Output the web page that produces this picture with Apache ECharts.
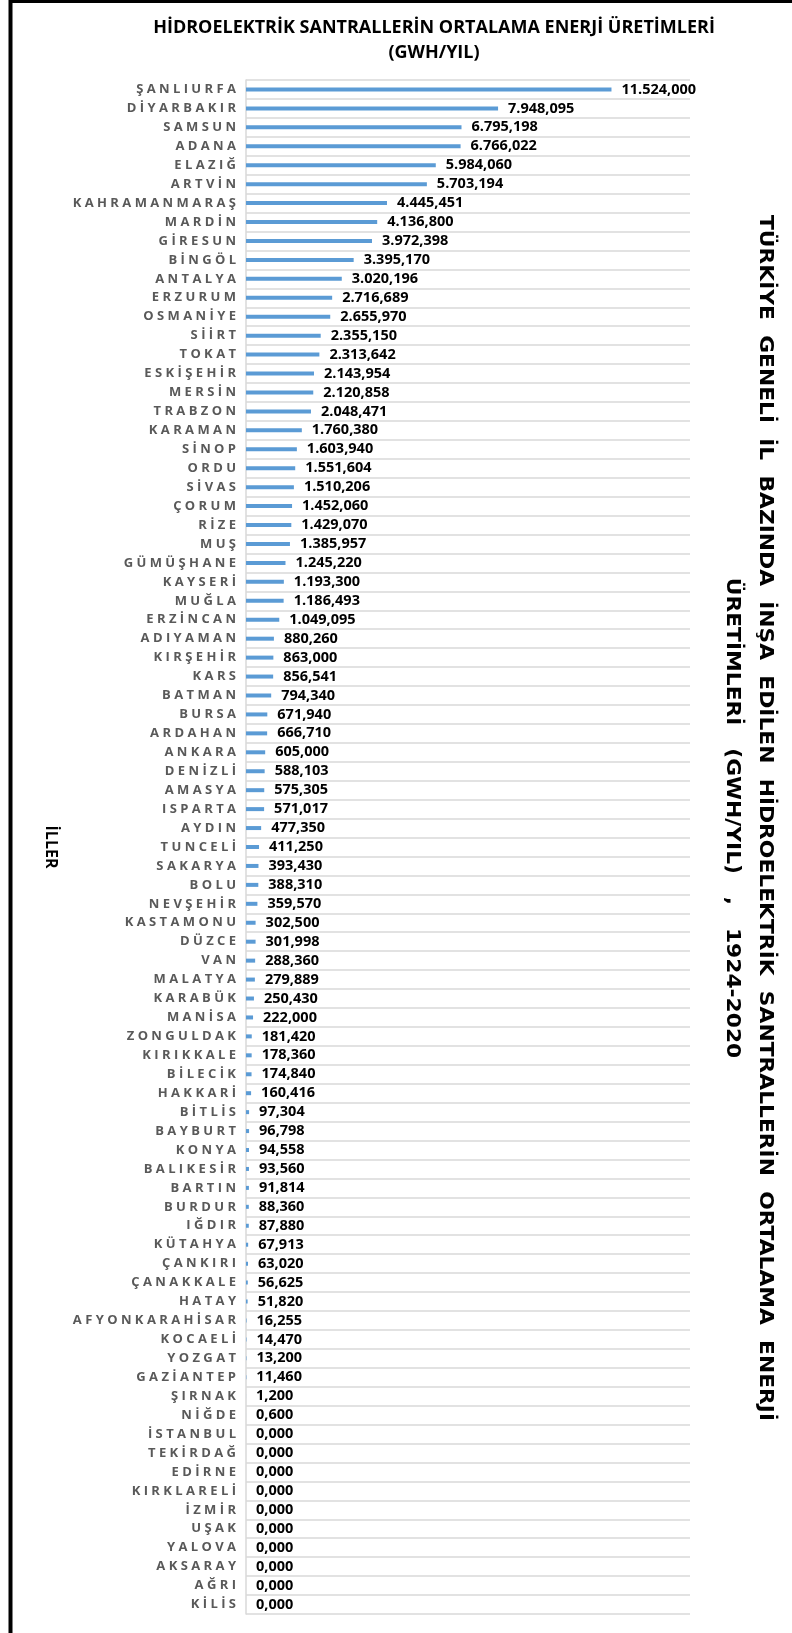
<!DOCTYPE html>
<html lang="tr">
  <head>
    <meta charset="UTF-8" />
    <title>HES ortalama enerji üretimleri</title>
    <script src="https://cdn.jsdelivr.net/npm/echarts@6/dist/echarts.min.js"></script>
    <style>
      html, body { margin: 0; padding: 0; background: #fff; }
      #main { width: 792px; height: 1633px; }
    </style>
  </head>
  <body>
    <div id="main"></div>
    <script>
      // iller (yukaridan asagiya)
      var iller = [
        "ŞANLIURFA", "DİYARBAKIR", "SAMSUN", "ADANA", "ELAZIĞ", "ARTVİN",
        "KAHRAMANMARAŞ", "MARDİN", "GİRESUN", "BİNGÖL", "ANTALYA", "ERZURUM",
        "OSMANİYE", "SİİRT", "TOKAT", "ESKİŞEHİR", "MERSİN", "TRABZON",
        "KARAMAN", "SİNOP", "ORDU", "SİVAS", "ÇORUM", "RİZE", "MUŞ",
        "GÜMÜŞHANE", "KAYSERİ", "MUĞLA", "ERZİNCAN", "ADIYAMAN", "KIRŞEHİR",
        "KARS", "BATMAN", "BURSA", "ARDAHAN", "ANKARA", "DENİZLİ", "AMASYA",
        "ISPARTA", "AYDIN", "TUNCELİ", "SAKARYA", "BOLU", "NEVŞEHİR",
        "KASTAMONU", "DÜZCE", "VAN", "MALATYA", "KARABÜK", "MANİSA",
        "ZONGULDAK", "KIRIKKALE", "BİLECİK", "HAKKARİ", "BİTLİS", "BAYBURT",
        "KONYA", "BALIKESİR", "BARTIN", "BURDUR", "IĞDIR", "KÜTAHYA",
        "ÇANKIRI", "ÇANAKKALE", "HATAY", "AFYONKARAHİSAR", "KOCAELİ",
        "YOZGAT", "GAZİANTEP", "ŞIRNAK", "NİĞDE", "İSTANBUL", "TEKİRDAĞ",
        "EDİRNE", "KIRKLARELİ", "İZMİR", "UŞAK", "YALOVA", "AKSARAY",
        "AĞRI", "KİLİS"
      ];

      // ortalama enerji uretimi (GWh/yil)
      var uretim = [
        11524.000, 7948.095, 6795.198, 6766.022, 5984.060, 5703.194,
        4445.451, 4136.800, 3972.398, 3395.170, 3020.196, 2716.689,
        2655.970, 2355.150, 2313.642, 2143.954, 2120.858, 2048.471,
        1760.380, 1603.940, 1551.604, 1510.206, 1452.060, 1429.070, 1385.957,
        1245.220, 1193.300, 1186.493, 1049.095, 880.260, 863.000,
        856.541, 794.340, 671.940, 666.710, 605.000, 588.103, 575.305,
        571.017, 477.350, 411.250, 393.430, 388.310, 359.570,
        302.500, 301.998, 288.360, 279.889, 250.430, 222.000,
        181.420, 178.360, 174.840, 160.416, 97.304, 96.798,
        94.558, 93.560, 91.814, 88.360, 87.880, 67.913,
        63.020, 56.625, 51.820, 16.255, 14.470,
        13.200, 11.460, 1.200, 0.600, 0.000, 0.000,
        0.000, 0.000, 0.000, 0.000, 0.000, 0.000,
        0.000, 0.000
      ];

      var anaBaslik = "HİDROELEKTRİK SANTRALLERİN ORTALAMA ENERJİ ÜRETİMLERİ\n(GWH/YIL)";
      var yanBaslik = [
        "TÜRKİYE  GENELİ  İL  BAZINDA  İNŞA  EDİLEN  HİDROELEKTRİK  SANTRALLERİN  ORTALAMA  ENERJİ",
        "ÜRETİMLERİ   (GWH/YIL)   ,   1924-2020"
      ];
      var eksenAdi = "İLLER";

      // 11524.000 -> 11.524,000
      function trSayi(v) {
        var p = v.toFixed(3).split(".");
        return p[0].replace(/\B(?=(\d{3})+(?!\d))/g, ".") + "," + p[1];
      }

      var chart = echarts.init(document.getElementById("main"));

      var option = {
        backgroundColor: "#fff",
        animation: false,
        title: {
          text: anaBaslik,
          left: 429,
          top: 10,
          textAlign: "center",
          textStyle: {
            fontFamily: "Open Sans",
            fontSize: 18,
            fontWeight: "bold",
            color: "#000",
            lineHeight: 25
          }
        },
        grid: {
          left: 246,
          right: 102,
          top: 80,
          height: 1534,
          containLabel: false
        },
        xAxis: {
          type: "value",
          min: 0,
          max: 14000,
          show: false
        },
        yAxis: {
          type: "category",
          data: iller,
          inverse: true,
          axisLine: { lineStyle: { color: "#d9d9d9", width: 1.5 } },
          axisTick: { show: false },
          axisLabel: {
            interval: 0,
            margin: 10,
            fontFamily: "Open Sans",
            fontSize: 13,
            fontWeight: "bold",
            color: "#595959",
            formatter: function (ad) {
              return ad.split("").join(" ");
            }
          },
          splitLine: {
            show: true,
            lineStyle: { color: "#d9d9d9", width: 1.5 }
          }
        },
        series: [
          {
            type: "bar",
            data: uretim,
            barWidth: 4,
            itemStyle: { color: "#5b9bd5" },
            label: {
              show: true,
              position: "right",
              distance: 10,
              fontFamily: "Open Sans",
              fontSize: 14.5,
              fontWeight: "bold",
              color: "#000",
              formatter: function (p) {
                return trSayi(p.value);
              }
            }
          }
        ],
        graphic: [
          {
            // sag taraftaki dikey baslik
            type: "text",
            x: 749,
            y: 818,
            rotation: -Math.PI / 2,
            scaleX: 1.09,
            style: {
              text: yanBaslik.join("\n"),
              align: "center",
              verticalAlign: "middle",
              fontFamily: "DejaVu Sans",
              fontSize: 20,
              fontWeight: "bold",
              fill: "#000",
              lineHeight: 33
            }
          },
          {
            // eksen adi
            type: "text",
            x: 51,
            y: 847,
            rotation: -Math.PI / 2,
            style: {
              text: eksenAdi,
              align: "center",
              verticalAlign: "middle",
              fontFamily: "Open Sans",
              fontSize: 16,
              fontWeight: "bold",
              fill: "#000"
            }
          },
          {
            type: "line",
            shape: { x1: 10.5, y1: 0, x2: 10.5, y2: 1633 },
            style: { stroke: "#000", lineWidth: 4 }
          },
          {
            type: "line",
            shape: { x1: 9, y1: 1.5, x2: 792, y2: 1.5 },
            style: { stroke: "#000", lineWidth: 3 }
          }
        ]
      };

      chart.setOption(option);
    </script>
  </body>
</html>
